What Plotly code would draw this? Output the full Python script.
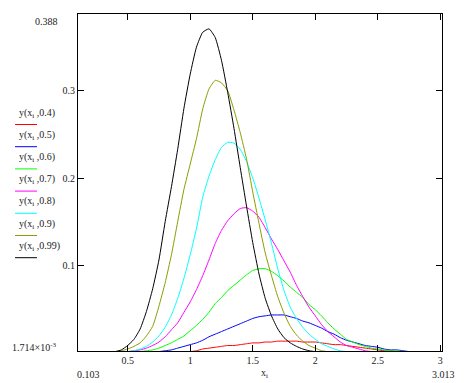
import plotly.graph_objects as go

# ---------------- data (x step 0.05) ----------------
X = [0.30, 0.35, 0.40, 0.45, 0.50, 0.55, 0.60, 0.65, 0.70, 0.75,
     0.80, 0.85, 0.90, 0.95, 1.00, 1.05, 1.10, 1.15, 1.20, 1.25,
     1.30, 1.35, 1.40, 1.45, 1.50, 1.55, 1.60, 1.65, 1.70, 1.75,
     1.80, 1.85, 1.90, 1.95, 2.00, 2.05, 2.10, 2.15, 2.20, 2.25,
     2.30, 2.35, 2.40, 2.45, 2.50, 2.55, 2.60, 2.65, 2.70, 2.75,
     2.80, 2.85, 2.90]

Y_04 = [0, 0, 0, 0, 0, 0, 0, 0, 0, 0,
        0, 0, 0, 0, 0.001, 0.002, 0.004, 0.005, 0.006, 0.007,
        0.008, 0.008, 0.009, 0.010, 0.011, 0.011, 0.012, 0.012, 0.013, 0.013,
        0.013, 0.013, 0.012, 0.012, 0.012, 0.011, 0.010, 0.009, 0.009, 0.008,
        0.007, 0.006, 0.005, 0.004, 0.003, 0.002, 0.002, 0.001, 0, 0,
        0, 0, 0]
Y_05 = [0, 0, 0, 0, 0, 0, 0, 0, 0, 0.001,
        0.002, 0.003, 0.005, 0.007, 0.009, 0.011, 0.014, 0.018, 0.021, 0.024,
        0.027, 0.030, 0.033, 0.036, 0.039, 0.041, 0.042, 0.043, 0.043, 0.043,
        0.041, 0.039, 0.036, 0.034, 0.031, 0.028, 0.024, 0.021, 0.017, 0.014,
        0.012, 0.010, 0.008, 0.007, 0.006, 0.004, 0.003, 0.003, 0.002, 0.001,
        0, 0, 0]
Y_06 = [0, 0, 0, 0, 0, 0, 0.001, 0.002, 0.003, 0.005,
        0.008, 0.011, 0.015, 0.019, 0.025, 0.031, 0.038, 0.046, 0.056, 0.063,
        0.071, 0.077, 0.083, 0.089, 0.094, 0.096, 0.096, 0.093, 0.088, 0.082,
        0.075, 0.069, 0.063, 0.055, 0.049, 0.042, 0.034, 0.027, 0.021, 0.015,
        0.012, 0.009, 0.007, 0.005, 0.004, 0.003, 0.002, 0.002, 0.001, 0,
        0, 0, 0]
Y_07 = [0, 0, 0, 0, 0.001, 0.002, 0.003, 0.005, 0.008, 0.012,
        0.018, 0.026, 0.034, 0.046, 0.058, 0.072, 0.088, 0.106, 0.125, 0.140,
        0.151, 0.159, 0.165, 0.166, 0.162, 0.155, 0.143, 0.130, 0.118, 0.105,
        0.092, 0.077, 0.064, 0.052, 0.042, 0.032, 0.024, 0.018, 0.012, 0.008,
        0.006, 0.004, 0.002, 0.001, 0, 0, 0, 0, 0, 0,
        0, 0, 0]
Y_08 = [0, 0, 0, 0, 0.001, 0.002, 0.004, 0.007, 0.012, 0.019,
        0.029, 0.043, 0.062, 0.085, 0.112, 0.142, 0.178, 0.202, 0.221, 0.235,
        0.241, 0.240, 0.233, 0.219, 0.200, 0.177, 0.152, 0.125, 0.096, 0.071,
        0.052, 0.039, 0.029, 0.021, 0.015, 0.010, 0.007, 0.004, 0.002, 0.001,
        0, 0, 0, 0, 0, 0, 0, 0, 0, 0,
        0, 0, 0]
Y_09 = [0, 0, 0.001, 0.002, 0.004, 0.007, 0.011, 0.019, 0.030, 0.053,
        0.080, 0.112, 0.150, 0.187, 0.216, 0.245, 0.279, 0.302, 0.312, 0.309,
        0.300, 0.278, 0.252, 0.222, 0.184, 0.148, 0.114, 0.088, 0.064, 0.045,
        0.030, 0.020, 0.013, 0.008, 0.005, 0.002, 0.001, 0, 0, 0,
        0, 0, 0, 0, 0, 0, 0, 0, 0, 0,
        0, 0, 0]
Y_099 = [0, 0, 0.001, 0.003, 0.008, 0.015, 0.027, 0.047, 0.073, 0.106,
         0.150, 0.190, 0.233, 0.280, 0.319, 0.350, 0.367, 0.371, 0.361, 0.335,
         0.298, 0.257, 0.212, 0.168, 0.126, 0.090, 0.062, 0.042, 0.027, 0.017,
         0.011, 0.007, 0.004, 0.002, 0.001, 0, 0, 0, 0, 0,
         0, 0, 0, 0, 0, 0, 0, 0, 0, 0,
         0, 0, 0]

PARAMS = ["0.4", "0.5", "0.6", "0.7", "0.8", "0.9", "0.99"]
SERIES = [Y_04, Y_05, Y_06, Y_07, Y_08, Y_09, Y_099]
COLORS = ["#FF0000", "#0000FF", "#00FF00", "#FF00FF", "#00FFFF", "#8C9C00", "#000000"]

X_MIN, X_MAX = 0.103, 3.013
Y_MIN, Y_MAX = 1.714e-3, 0.388
X_TICKS = [0.5, 1, 1.5, 2, 2.5, 3]
Y_TICKS = [0.1, 0.2, 0.3]

# ---------------- figure ----------------
OFF = 8                      # page body margin
W, H = 468 - OFF, 383 - OFF
ML, MR, MT, MB = 78 - OFF, 26, 14 - OFF, 32
PW, PH = W - ML - MR, H - MT - MB
FONT = "Liberation Serif"

fig = go.Figure()
for p, ys, c in zip(PARAMS, SERIES, COLORS):
    fig.add_trace(go.Scatter(x=X, y=ys, mode="lines", name=p,
                             line=dict(color=c, width=1, shape="spline", smoothing=0.5),
                             showlegend=False))

# page-pixel -> paper coordinates
def px_x(px):
    return (px - OFF - ML) / PW

def px_y(py):
    return (H - MB - (py - OFF)) / PH

ann = []
shapes = []
# custom legend: label with line sample below
for k, (p, c) in enumerate(zip(PARAMS, COLORS)):
    ly = 113 + 22.2 * k
    ann.append(dict(text=f"y(x<sub>i</sub> ,{p})", x=px_x(17), y=px_y(ly), xref="paper", yref="paper",
                    xanchor="left", yanchor="middle", showarrow=False,
                    font=dict(family=FONT, size=10, color="#222222")))
    shapes.append(dict(type="line", xref="paper", yref="paper",
                       x0=px_x(15), x1=px_x(37), y0=px_y(ly + 11.5), y1=px_y(ly + 11.5),
                       line=dict(color=c, width=1)))

extra = [
    dict(text="0.388", x=px_x(60), y=px_y(21), xanchor="right", yanchor="middle"),
    dict(text="1.714×10<sup>-3</sup>", x=px_x(58), y=px_y(347), xanchor="right", yanchor="middle"),
    dict(text="0.103", x=px_x(88), y=px_y(374), xanchor="center", yanchor="middle"),
    dict(text="3.013", x=px_x(443), y=px_y(374), xanchor="center", yanchor="middle"),
    dict(text="x<sub>i</sub>", x=px_x(264), y=px_y(373), xanchor="center", yanchor="middle"),
]
for a in extra:
    a.update(xref="paper", yref="paper", showarrow=False,
             font=dict(family=FONT, size=10, color="#222222"))
ann += extra

fig.update_layout(
    width=W, height=H,
    margin=dict(l=ML, r=MR, t=MT, b=MB, autoexpand=False),
    paper_bgcolor="white", plot_bgcolor="white",
    annotations=ann, shapes=shapes,
    font=dict(family=FONT, size=10, color="#222222"),
)
fig.update_xaxes(range=[X_MIN, X_MAX], tickvals=X_TICKS, ticktext=[str(t) for t in X_TICKS],
                 ticks="inside", ticklen=6, tickcolor="black", showline=True, linecolor="black",
                 linewidth=1, mirror="ticks", showgrid=False, zeroline=False)
fig.update_yaxes(range=[Y_MIN, Y_MAX], tickvals=Y_TICKS, ticktext=[str(t) for t in Y_TICKS],
                 ticks="inside", ticklen=6, tickcolor="black", showline=True, linecolor="black",
                 linewidth=1, mirror="ticks", showgrid=False, zeroline=False)

fig.write_html("out.html")
